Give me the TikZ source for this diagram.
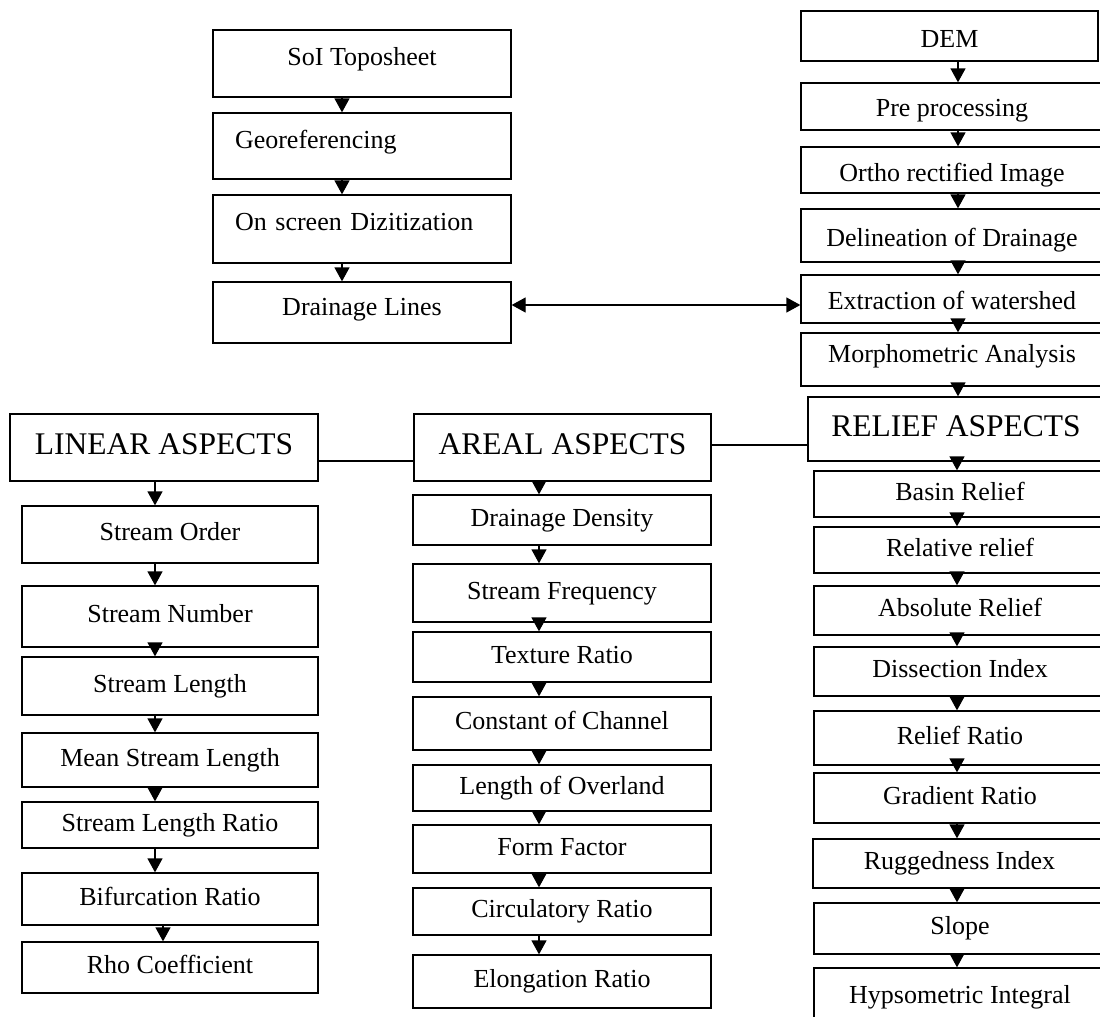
\documentclass[tikz,border=0pt]{standalone}
\usepackage{fontspec}
\setmainfont{Liberation Serif}
\usetikzlibrary{arrows.meta}
\tikzset{
  bx/.style n args={4}{draw, line width=1.3pt, inner sep=0pt,
    minimum width={#3-#1}, minimum height={#4-#2},
    at={({(#1+#3)/2},{(#2+#4)/2})},
    font=\fontsize{26}{30}\selectfont, text height=18pt, text depth=5.7pt},
  hd/.style={font=\fontsize{31.5}{36}\selectfont, text height=21.7pt, text depth=7pt},
  lefttext/.style={text width=254pt, align=left},
  arr/.style={line width=1.3pt, -{Triangle[width=15pt,length=14pt]}},
  arrtwo/.style={line width=1.3pt, {Triangle[width=15pt,length=14pt]}-{Triangle[width=15pt,length=14pt]}},
  ln/.style={line width=1.3pt},
}
\begin{document}
\begin{tikzpicture}[x=1pt,y=-1pt]
\path[use as bounding box] (0,0) rectangle (1100,1017);
\clip (0,0) rectangle (1100,1017);

% top-left chain
\node[bx={213}{30}{511}{97}] (sot) {\raisebox{4pt}{SoI Toposheet}};
\node[bx={213}{113}{511}{179}, lefttext] (geo) {\raisebox{4pt}{Georeferencing}};
\node[bx={213}{195}{511}{263}, lefttext] (ons) {\raisebox{5pt}{On screen Dizitization}};
\node[bx={213}{282}{511}{343}] (dl) {\raisebox{3pt}{Drainage Lines}};

% top-right chain
\node[bx={801}{11}{1098}{61}] (dem) {\raisebox{-5pt}{DEM}};
\node[bx={801}{83}{1103}{130}] (pre) {\raisebox{-4pt}{Pre processing}};
\node[bx={801}{147}{1103}{193}] (ort) {\raisebox{-5pt}{Ortho rectified Image}};
\node[bx={801}{209}{1103}{262}] (del) {\raisebox{-5pt}{Delineation of Drainage}};
\node[bx={801}{275}{1103}{323}] (ext) {\raisebox{-4pt}{Extraction of watershed}};
\node[bx={801}{333}{1103}{386}] (mor) {\raisebox{3pt}{Morphometric Analysis}};

% headers
\node[bx={10}{414}{318}{481}, hd] (lin) {LINEAR ASPECTS};
\node[bx={414}{414}{711}{481}, hd] (are) {AREAL ASPECTS};
\node[bx={808}{397}{1104}{461}, hd] (rel) {RELIEF ASPECTS};

% linear column
\node[bx={22}{506}{318}{563}] (so) {Stream Order};
\node[bx={22}{586}{318}{647}] (sn) {Stream Number};
\node[bx={22}{657}{318}{715}] (sl) {Stream Length};
\node[bx={22}{733}{318}{787}] (msl) {Mean Stream Length};
\node[bx={22}{802}{318}{848}] (slr) {Stream Length Ratio};
\node[bx={22}{873}{318}{925}] (bif) {Bifurcation Ratio};
\node[bx={22}{942}{318}{993}] (rho) {Rho Coefficient};

% areal column
\node[bx={413}{495}{711}{545}] (dd) {Drainage Density};
\node[bx={413}{564}{711}{622}] (sf) {Stream Frequency};
\node[bx={413}{632}{711}{682}] (tr) {Texture Ratio};
\node[bx={413}{697}{711}{750}] (cc) {Constant of Channel};
\node[bx={413}{765}{711}{811}] (lo) {Length of Overland};
\node[bx={413}{825}{711}{873}] (ff) {Form Factor};
\node[bx={413}{888}{711}{935}] (cr) {Circulatory Ratio};
\node[bx={413}{955}{711}{1008}] (er) {Elongation Ratio};

% relief column
\node[bx={814}{471}{1106}{517}] (br) {Basin Relief};
\node[bx={814}{527}{1106}{573}] (rr) {Relative relief};
\node[bx={814}{586}{1106}{635}] (ar) {Absolute Relief};
\node[bx={814}{647}{1106}{696}] (di) {Dissection Index};
\node[bx={814}{711}{1106}{765}] (rra) {Relief Ratio};
\node[bx={814}{773}{1106}{823}] (gr) {Gradient Ratio};
\node[bx={813}{839}{1106}{888}] (ri) {Ruggedness Index};
\node[bx={814}{903}{1106}{954}] (slo) {Slope};
\node[bx={814}{968}{1106}{1036}] (hi) {\raisebox{5pt}{Hypsometric Integral}};

% column coordinates
\coordinate (cA) at (342,0);
\coordinate (cB) at (958,0);
\coordinate (cL) at (155,0);
\coordinate (cL2) at (163,0);
\coordinate (cM) at (539,0);
\coordinate (cR) at (957,0);
\coordinate (yD) at (0,305);
\coordinate (yL) at (0,461);
\coordinate (yR) at (0,445);

% top-left arrows
\draw[arr] (sot.south -| cA) -- (geo.north -| cA);
\draw[arr] (geo.south -| cA) -- (ons.north -| cA);
\draw[arr] (ons.south -| cA) -- (dl.north -| cA);

% top-right arrows
\draw[arr] (dem.south -| cB) -- (pre.north -| cB);
\draw[arr] (pre.south -| cB) -- (ort.north -| cB);
\draw[arr] (ort.south -| cB) -- (del.north -| cB);
\draw[arr] (del.south -| cB) -- (ext.north -| cB);
\draw[arr] (ext.south -| cB) -- (mor.north -| cB);
\draw[arr] (mor.south -| cB) -- (rel.north -| cB);

% double arrow
\draw[arrtwo] (dl.east |- yD) -- (ext.west |- yD);

% header links
\draw[ln] (lin.east |- yL) -- (are.west |- yL);
\draw[ln] (are.east |- yR) -- (rel.west |- yR);

% linear arrows
\draw[arr] (lin.south -| cL) -- (so.north -| cL);
\draw[arr] (so.south -| cL) -- (sn.north -| cL);
\draw[arr] (sn.south -| cL) -- (sl.north -| cL);
\draw[arr] (sl.south -| cL) -- (msl.north -| cL);
\draw[arr] (msl.south -| cL) -- (slr.north -| cL);
\draw[arr] (slr.south -| cL) -- (bif.north -| cL);
\draw[arr] (bif.south -| cL2) -- (rho.north -| cL2);

% areal arrows
\draw[arr] (are.south -| cM) -- (dd.north -| cM);
\draw[arr] (dd.south -| cM) -- (sf.north -| cM);
\draw[arr] (sf.south -| cM) -- (tr.north -| cM);
\draw[arr] (tr.south -| cM) -- (cc.north -| cM);
\draw[arr] (cc.south -| cM) -- (lo.north -| cM);
\draw[arr] (lo.south -| cM) -- (ff.north -| cM);
\draw[arr] (ff.south -| cM) -- (cr.north -| cM);
\draw[arr] (cr.south -| cM) -- (er.north -| cM);

% relief arrows
\draw[arr] (rel.south -| cR) -- (br.north -| cR);
\draw[arr] (br.south -| cR) -- (rr.north -| cR);
\draw[arr] (rr.south -| cR) -- (ar.north -| cR);
\draw[arr] (ar.south -| cR) -- (di.north -| cR);
\draw[arr] (di.south -| cR) -- (rra.north -| cR);
\draw[arr] (rra.south -| cR) -- (gr.north -| cR);
\draw[arr] (gr.south -| cR) -- (ri.north -| cR);
\draw[arr] (ri.south -| cR) -- (slo.north -| cR);
\draw[arr] (slo.south -| cR) -- (hi.north -| cR);
\end{tikzpicture}
\end{document}
